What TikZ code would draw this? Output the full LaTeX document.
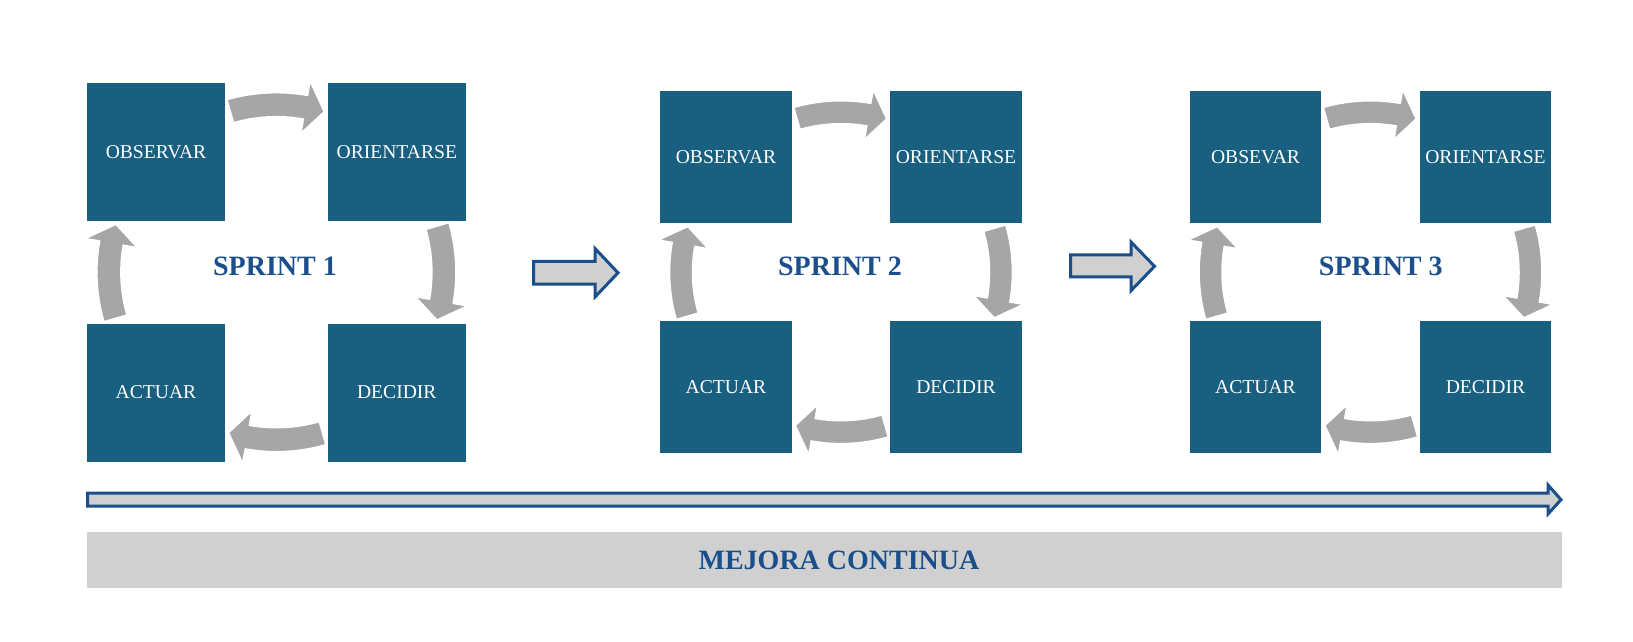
\documentclass[tikz,border=0pt]{standalone}
\usepackage{fontspec}
\setmainfont{Liberation Serif}
\usetikzlibrary{calc}
\definecolor{boxblue}{HTML}{185F80}
\definecolor{navy}{HTML}{1A4F8B}
\definecolor{cycgray}{HTML}{A6A6A6}
\definecolor{bargray}{HTML}{D0D0D0}
\tikzset{phase/.style={rectangle,fill=boxblue,text=white,inner sep=0pt,font=\fontsize{9.8}{12}\selectfont},
  sprint/.style={text=navy,font=\bfseries\fontsize{14}{17}\selectfont},
  cyc/.style={fill=cycgray,draw=white,line width=0.75pt},
  bigarrow/.style={fill=bargray,draw=navy,line width=1.5pt,line join=miter}}

\begin{document}
\begin{tikzpicture}[x=0.5pt,y=0.5pt]
\useasboundingbox (0,0) rectangle (1633,642);
% the three sprints
\foreach \n/\cx/\s/\lx/\obs in {1/276.4/1/-1.4/OBSERVAR,2/841/0.955/-1/OBSERVAR,3/1370.5/0.955/10.3/OBSEVAR}{%
  \coordinate (c\n) at (\cx,369.8);
  \node[phase,minimum size=\s*69pt] (obs\n) at ($(c\n)+(-120.4*\s,120.4*\s)$) {\obs};
  \node[phase,minimum size=\s*69pt] (ori\n) at ($(c\n)+(120.4*\s,120.4*\s)$) {ORIENTARSE};
  \node[phase,minimum size=\s*69pt] (dec\n) at ($(c\n)+(120.4*\s,-120.4*\s)$) {DECIDIR};
  \node[phase,minimum size=\s*69pt] (act\n) at ($(c\n)+(-120.4*\s,-120.4*\s)$) {ACTUAR};
  \node[sprint] (sp\n) at ($(c\n)+(\lx,6)$) {SPRINT \n};
  \foreach \rot in {0,-90,-180,-270}
    \filldraw[cyc,shift={(c\n)},rotate=\rot,scale=\s] (106:179.5) arc[start angle=106,end angle=80,radius=179.5]
      -- (80:194) -- (73.4:167.5) -- (80:141) -- (80:155.5) arc[start angle=80,end angle=106,radius=155.5] -- cycle;}
% arrows between sprints
\draw[bigarrow] (533.5,380.5) -- (595,380.5) -- (595,393.5) -- (618,369.2) -- (595,345) -- (595,357.8) -- (533.5,357.8) -- cycle;
\draw[bigarrow] (1070.5,387.2) -- (1131,387.2) -- (1131,400) -- (1154.5,375.7) -- (1131,351.3) -- (1131,365.2) -- (1070.5,365.2) -- cycle;
\draw[bigarrow] (87.5,148.8) -- (1548,148.8) -- (1548,157) -- (1561,142.3) -- (1548,128) -- (1548,135.8) -- (87.5,135.8) -- cycle;
% improvement bar
\fill[bargray] (86.7,53.7) rectangle (1561.7,110.3);
\node[sprint] (mejora) at (839,82) {MEJORA CONTINUA};
\end{tikzpicture}
\end{document}
